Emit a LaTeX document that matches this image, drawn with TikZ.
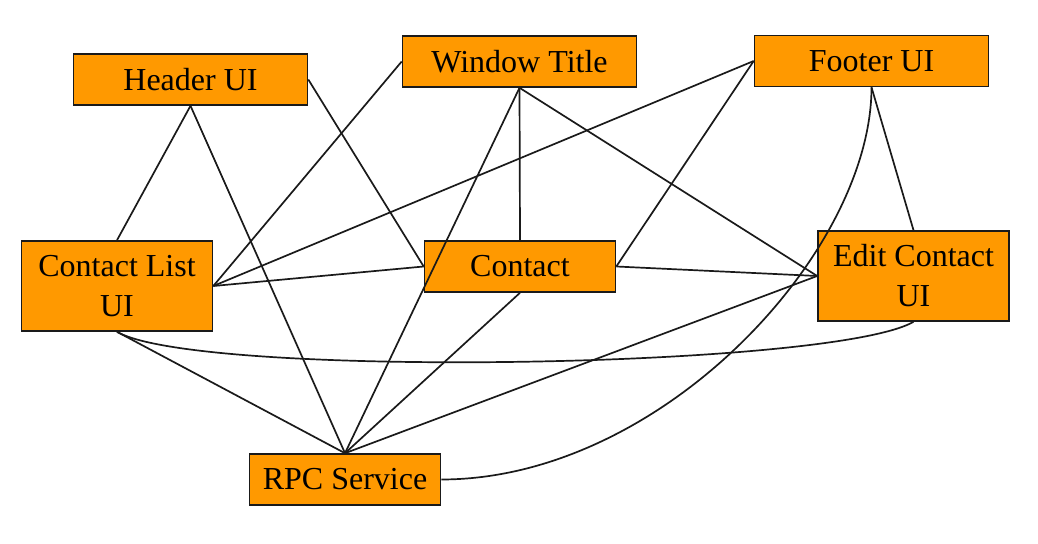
\documentclass[tikz,border=0pt]{standalone}
\usepackage{fontspec}
\setmainfont{Liberation Serif}
\usetikzlibrary{positioning}
\definecolor{compfill}{HTML}{FF9900}
\definecolor{compline}{HTML}{1A1A1A}

\begin{document}
\begin{tikzpicture}[
  x=0.5pt, y=-0.5pt,
  font=\fontsize{16}{20}\selectfont,
  comp/.style = {draw=compline, line width=0.8pt, fill=compfill, inner sep=0pt,
                 align=center, minimum width=95.5pt, minimum height=25.5pt},
  wide/.style = {minimum width=117pt},
  tall/.style = {minimum height=45pt},
  dep/.style  = {draw=compline, line width=0.85pt},
]
\useasboundingbox (0,0) rectangle (1038,544);

% --- the components -------------------------------------------------------------------------------
\node[comp, wide] (header)  at (190.5, 79.5) {Header UI};
\node[comp, wide] (title)   at (519.5, 61.5) {Window Title};
\node[comp, wide] (footer)  at (871.5, 61)   {Footer UI};
\node[comp, tall] (clist)   at (117, 286)    {Contact List\\UI};
\node[comp]       (contact) at (520, 266.5)  {Contact};
\node[comp, tall] (edit)    at (913.5, 276)  {Edit Contact\\UI};
\node[comp]       (rpc)     at (345, 479.5)  {RPC Service};

% --- straight dependencies -----------------------------------------------------------------------
\draw[dep] (header.south) -- (clist.north);
\draw[dep] (header.south) -- (rpc.north);
\draw[dep] (header.east) -- (contact.west);
\draw[dep] (title.west) -- (clist.east);
\draw[dep] (title.south) -- (contact.north);
\draw[dep] (title.south) -- (rpc.north);
\draw[dep] (title.south) -- (edit.west);
\draw[dep] (footer.west) -- (clist.east);
\draw[dep] (footer.west) -- (contact.east);
\draw[dep] (footer.south) -- (edit.north);
\draw[dep] (clist.east) -- (contact.west);
\draw[dep] (clist.south) -- (rpc.north);
\draw[dep] (contact.south) -- (rpc.north);
\draw[dep] (contact.east) -- (edit.west);
\draw[dep] (edit.west) -- (rpc.north);

% --- the two long bends --------------------------------------------------------------------------
\draw[dep] (footer.south) .. controls +(0,165) and +(220,0) .. (rpc.east);
\draw[dep] (clist.south) to[out=-30, in=-150, looseness=0.3] (edit.south);

\end{tikzpicture}
\end{document}
